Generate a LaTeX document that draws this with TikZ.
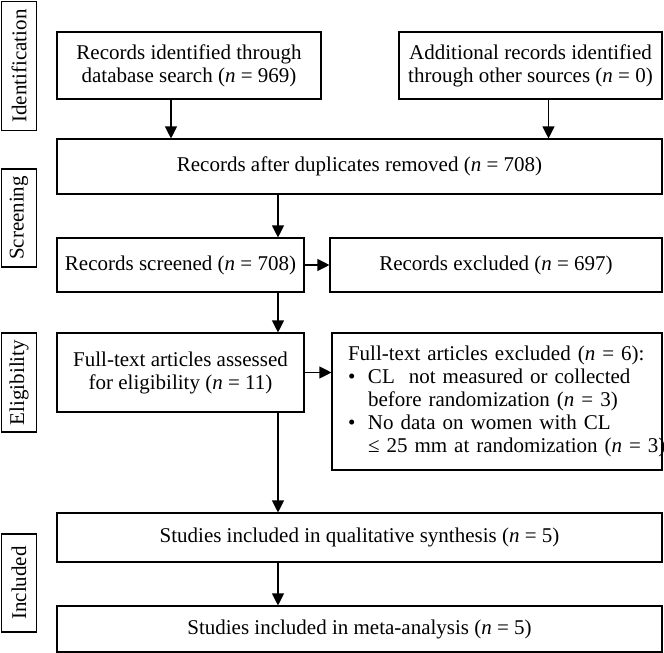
\documentclass[tikz,border=0pt]{standalone}
\usepackage{fontspec}
\setmainfont{Liberation Serif}
\usetikzlibrary{arrows.meta}

\begin{document}
\begin{tikzpicture}[x=1pt,y=-1pt,>={Triangle[length=12pt,width=12pt]},
        line width=1.1pt,
        box/.style={draw,inner sep=0pt,align=center,
            font=\fontsize{21}{23}\selectfont},
        phase/.style={draw,inner sep=0pt,rotate=90,minimum height=35pt,
            font=\fontsize{21}{23}\selectfont}]

    \useasboundingbox (0,0) rectangle (664,653);

    \node[phase,minimum width=129pt] (ident) at (19,66) {Identification};
    \node[phase,minimum width=98pt] (screen) at (19,218) {Screening};
    \node[phase,minimum width=99pt] (elig) at (19,382.5) {Eligibility};
    \node[phase,minimum width=98pt] (incl) at (19,583) {Included};

    \node[box,minimum width=264pt,minimum height=67pt] (db) at (189,65.5)
        {Records identified through\\database search (\textit{n} = 969)};
    \node[box,minimum width=263pt,minimum height=67pt] (other) at (530.5,65.5)
        {Additional records identified\\through other sources (\textit{n} = 0)};
    \node[box,minimum width=605pt,minimum height=55pt] (dedup) at (359.5,166.5)
        {Records after duplicates removed (\textit{n} = 708)};
    \node[box,minimum width=247pt,minimum height=54pt] (screened) at (180.5,265)
        {Records screened (\textit{n} = 708)};
    \node[box,minimum width=332pt,minimum height=54pt] (excl) at (496,265)
        {Records excluded (\textit{n} = 697)};
    \node[box,minimum width=247pt,minimum height=79pt] (full) at (180.5,372.5)
        {Full-text articles assessed\\for eligibility (\textit{n} = 11)};
    \node[box,text width=298pt,inner xsep=16pt,minimum height=137pt,align=left] (ftexcl) at (497,401.5)
        {\begin{tabular}{@{}p{20pt}@{}l@{}}
            \multicolumn{2}{@{}l@{}}{Full-text articles excluded (\textit{n} = 6):}\\
            \textbullet & CL\ \ not measured or collected\\
             & before randomization (\textit{n} = 3)\\
            \textbullet & No data on women with CL\\
             & ≤ 25 mm at randomization (\textit{n} = 3)
        \end{tabular}};
    \node[box,minimum width=605pt,minimum height=49pt] (qual) at (359.5,537.5)
        {Studies included in qualitative synthesis (\textit{n} = 5)};
    \node[box,minimum width=605pt,minimum height=46pt] (meta) at (359.5,629)
        {Studies included in meta-analysis (\textit{n} = 5)};

    \coordinate (col) at (278,0);

    \path[->]
        ([xshift=-18pt]db.south) edge ([xshift=-18pt]db.south |- dedup.north)
        ([xshift=18pt]other.south) edge ([xshift=18pt]other.south |- dedup.north)
        (dedup.south -| col) edge (screened.north -| col)
        (screened.east) edge (excl.west)
        (screened.south -| col) edge (full.north -| col)
        (full.east) edge (full.east -| ftexcl.west)
        (full.south -| col) edge (qual.north -| col)
        (qual.south -| col) edge (meta.north -| col);
\end{tikzpicture}
\end{document}
